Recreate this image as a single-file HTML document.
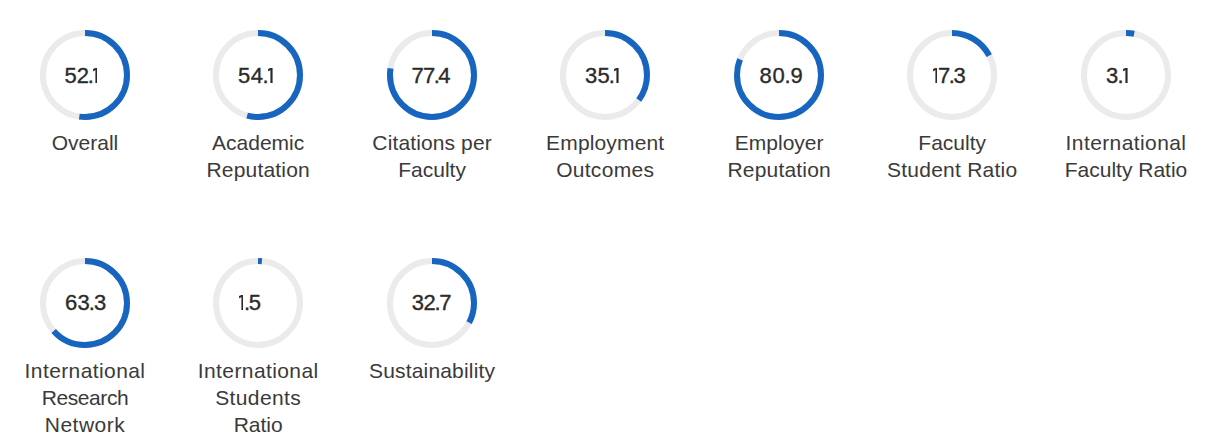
<!DOCTYPE html>
<html><head><meta charset="utf-8"><style>
html,body{margin:0;padding:0;background:#fff;}
body{width:1219px;height:447px;position:relative;overflow:hidden;font-family:"Liberation Sans",sans-serif;}
.ring{position:absolute;display:block;}
.num{position:absolute;white-space:nowrap;font-size:22px;line-height:30px;color:#2b2b2b;-webkit-text-stroke:0.35px #2b2b2b;}
.num .o{fill:#2b2b2b;stroke:#2b2b2b;stroke-width:0.35px;}
.num .d{margin:0 -1px;}
.lab{position:absolute;width:172px;text-align:center;font-size:21px;line-height:27px;color:#3a3a3a;}
</style></head><body>
<svg class="ring" style="left:40.00px;top:29.60px" width="90" height="90" viewBox="0 0 90 90"><circle cx="45" cy="45" r="42" fill="none" stroke="#ebebeb" stroke-width="6"/><circle cx="45" cy="45" r="42" fill="none" stroke="#1765bf" stroke-width="6" stroke-dasharray="137.489 263.894" transform="rotate(-90 45 45)"/></svg>
<div class="num" style="left:64.6px;top:61px;letter-spacing:-0.17px">52<span class="d">.</span><svg class="o" style="margin:0 0px 0 0.3px" width="4.4" height="15" viewBox="0 0 4.4 15"><path d="M0 1.3L2.6 0H4.4V15H2.6V2.1L0 3.1Z"/></svg></div>
<div class="lab" style="left:-1.00px;top:129.00px">Overall</div>
<svg class="ring" style="left:213.20px;top:29.60px" width="90" height="90" viewBox="0 0 90 90"><circle cx="45" cy="45" r="42" fill="none" stroke="#ebebeb" stroke-width="6"/><circle cx="45" cy="45" r="42" fill="none" stroke="#1765bf" stroke-width="6" stroke-dasharray="142.767 263.894" transform="rotate(-90 45 45)"/></svg>
<div class="num" style="left:238.1px;top:61px;letter-spacing:0.4px">54<span class="d">.</span><svg class="o" style="margin:0 0px 0 0.3px" width="4.4" height="15" viewBox="0 0 4.4 15"><path d="M0 1.3L2.6 0H4.4V15H2.6V2.1L0 3.1Z"/></svg></div>
<div class="lab" style="left:172.20px;top:129.00px">Academic<br><span style="letter-spacing:0.2px">Reputation</span></div>
<svg class="ring" style="left:387.10px;top:29.60px" width="90" height="90" viewBox="0 0 90 90"><circle cx="45" cy="45" r="42" fill="none" stroke="#ebebeb" stroke-width="6"/><circle cx="45" cy="45" r="42" fill="none" stroke="#1765bf" stroke-width="6" stroke-dasharray="204.254 263.894" transform="rotate(-90 45 45)"/></svg>
<div class="num" style="left:411.4px;top:61px;letter-spacing:-0.57px">77<span class="d">.</span>4</div>
<div class="lab" style="left:346.10px;top:129.00px"><span style="letter-spacing:0.12px">Citations per</span><br>Faculty</div>
<svg class="ring" style="left:560.20px;top:29.60px" width="90" height="90" viewBox="0 0 90 90"><circle cx="45" cy="45" r="42" fill="none" stroke="#ebebeb" stroke-width="6"/><circle cx="45" cy="45" r="42" fill="none" stroke="#1765bf" stroke-width="6" stroke-dasharray="92.627 263.894" transform="rotate(-90 45 45)"/></svg>
<div class="num" style="left:585.1px;top:61px;letter-spacing:0.07px">35<span class="d">.</span><svg class="o" style="margin:0 0px 0 0.3px" width="4.4" height="15" viewBox="0 0 4.4 15"><path d="M0 1.3L2.6 0H4.4V15H2.6V2.1L0 3.1Z"/></svg></div>
<div class="lab" style="left:519.20px;top:129.00px"><span style="letter-spacing:0.15px">Employment</span><br><span style="letter-spacing:0.3px">Outcomes</span></div>
<svg class="ring" style="left:734.20px;top:29.60px" width="90" height="90" viewBox="0 0 90 90"><circle cx="45" cy="45" r="42" fill="none" stroke="#ebebeb" stroke-width="6"/><circle cx="45" cy="45" r="42" fill="none" stroke="#1765bf" stroke-width="6" stroke-dasharray="213.490 263.894" transform="rotate(-90 45 45)"/></svg>
<div class="num" style="left:759.6px;top:61px;letter-spacing:0.77px">80<span class="d">.</span>9</div>
<div class="lab" style="left:693.20px;top:129.00px">Employer<br><span style="letter-spacing:0.2px">Reputation</span></div>
<svg class="ring" style="left:907.20px;top:29.60px" width="90" height="90" viewBox="0 0 90 90"><circle cx="45" cy="45" r="42" fill="none" stroke="#ebebeb" stroke-width="6"/><circle cx="45" cy="45" r="42" fill="none" stroke="#1765bf" stroke-width="6" stroke-dasharray="45.654 263.894" transform="rotate(-90 45 45)"/></svg>
<div class="num" style="left:933.1px;top:61px;letter-spacing:-0.37px"><svg class="o" style="margin:0 0.5px 0 0px" width="4.4" height="15" viewBox="0 0 4.4 15"><path d="M0 1.3L2.6 0H4.4V15H2.6V2.1L0 3.1Z"/></svg>7<span class="d">.</span>3</div>
<div class="lab" style="left:866.20px;top:129.00px">Faculty<br><span style="letter-spacing:0.23px">Student Ratio</span></div>
<svg class="ring" style="left:1081.00px;top:29.60px" width="90" height="90" viewBox="0 0 90 90"><circle cx="45" cy="45" r="42" fill="none" stroke="#ebebeb" stroke-width="6"/><circle cx="45" cy="45" r="42" fill="none" stroke="#1765bf" stroke-width="6" stroke-dasharray="8.181 263.894" transform="rotate(-90 45 45)"/></svg>
<div class="num" style="left:1106.1px;top:61px;letter-spacing:0.2px">3<span class="d">.</span><svg class="o" style="margin:0 0px 0 0.3px" width="4.4" height="15" viewBox="0 0 4.4 15"><path d="M0 1.3L2.6 0H4.4V15H2.6V2.1L0 3.1Z"/></svg></div>
<div class="lab" style="left:1040.00px;top:129.00px"><span style="letter-spacing:0.4px">International</span><br>Faculty Ratio</div>
<svg class="ring" style="left:40.00px;top:257.60px" width="90" height="90" viewBox="0 0 90 90"><circle cx="45" cy="45" r="42" fill="none" stroke="#ebebeb" stroke-width="6"/><circle cx="45" cy="45" r="42" fill="none" stroke="#1765bf" stroke-width="6" stroke-dasharray="167.045 263.894" transform="rotate(-90 45 45)"/></svg>
<div class="num" style="left:65.1px;top:288px;letter-spacing:0.07px">63<span class="d">.</span>3</div>
<div class="lab" style="left:-1.00px;top:357.00px"><span style="letter-spacing:0.4px">International</span><br><span style="letter-spacing:-0.4px">Research</span><br><span style="letter-spacing:0.5px">Network</span></div>
<svg class="ring" style="left:213.20px;top:257.60px" width="90" height="90" viewBox="0 0 90 90"><circle cx="45" cy="45" r="42" fill="none" stroke="#ebebeb" stroke-width="6"/><circle cx="45" cy="45" r="42" fill="none" stroke="#1765bf" stroke-width="6" stroke-dasharray="3.958 263.894" transform="rotate(-90 45 45)"/></svg>
<div class="num" style="left:238.9px;top:288px;letter-spacing:-0.35px"><svg class="o" style="margin:0 1.7px 0 0px" width="4.4" height="15" viewBox="0 0 4.4 15"><path d="M0 1.3L2.6 0H4.4V15H2.6V2.1L0 3.1Z"/></svg><span class="d">.</span>5</div>
<div class="lab" style="left:172.20px;top:357.00px"><span style="letter-spacing:0.4px">International</span><br><span style="letter-spacing:0.4px">Students</span><br>Ratio</div>
<svg class="ring" style="left:387.10px;top:257.60px" width="90" height="90" viewBox="0 0 90 90"><circle cx="45" cy="45" r="42" fill="none" stroke="#ebebeb" stroke-width="6"/><circle cx="45" cy="45" r="42" fill="none" stroke="#1765bf" stroke-width="6" stroke-dasharray="86.293 263.894" transform="rotate(-90 45 45)"/></svg>
<div class="num" style="left:411.7px;top:288px;letter-spacing:-0.33px">32<span class="d">.</span>7</div>
<div class="lab" style="left:346.10px;top:357.00px"><span style="letter-spacing:0.17px">Sustainability</span></div>
</body></html>
